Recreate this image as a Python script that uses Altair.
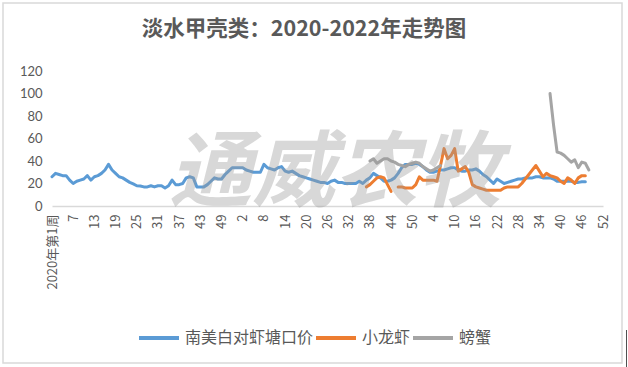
import altair as alt
import pandas as pd

N = 157  # 2020 (53 weeks) + 2021 (52) + 2022 (52)

chart_title = "淡水甲壳类：2020-2022年走势图"
watermark_text = "通威农牧"

x_tick_labels = ["2020年第1周", "7", "13", "19", "25", "31", "37", "43", "49",
                 "2", "8", "14", "20", "26", "32", "38", "44", "50",
                 "4", "10", "16", "22", "28", "34", "40", "46", "52"]

series_names = ["南美白对虾塘口价", "小龙虾", "螃蟹"]
series_colors = ["#5B9BD5", "#ED7D31", "#A5A5A5"]

shrimp_vals = [26, 29, 28, 27, 27, 23, 20, 22, 23, 24,
               27, 23, 26, 27, 29, 32, 37, 32, 29, 26,
               25, 23, 21, 19.6, 18, 17.8, 17, 17, 18, 17,
               18, 18, 16, 18, 23, 19, 19, 20, 25, 26,
               25, 17, 17, 17, 19, 22, 25, 24, 24, 28,
               31, 34, 34, 34, 34, 32, 31, 30, 30, 30,
               37, 34, 33, 32, 34, 35, 31, 30, 31, 29,
               27, 26, 25, 24, 23, 22, 21, 21, 20, 22,
               23, 21, 21, 20, 20, 20, 20, 22, 20, 23,
               25, 29, 27, 25, 22, 22, 23, 25, 29, 34,
               37, 37, 37, 38, 37, 35, 32, 30, 30, 31,
               32, 32, 33, 34, 34, 32, 31, 31, 32, 32,
               33, 31, 28, 26, 23, 20, 24, 22, 20, 21,
               22, 23, 24, 24, 25, 25, 25, 26, 26, 25,
               25, 25, 24, 22, 22, 22, 22, 22, 21, 21,
               21.5, 21.5]
shrimp_start = 0

crayfish_vals = [17, 19, 22, 25, 26, 25, 19, 13, None,
                 17, 17, 16, 16, 16, 19, 26, 23, 23, 23,
                 23, 22, 36, 51, 42, 45, 51, 31, 33, 35,
                 30, 19, 17, 16, 15, 14, 14, 14, 14, 14,
                 16, 17, 17, 17, 17, 20, 24, 28, 32, 36,
                 31, 26, 29, 27, 26, 25, 22, 20, 25, 23,
                 20, 25, 27, 27]
crayfish_start = 89

crab_vals = [40, 42, 38, 40, 42, 42, 40, 39, 37, 36,
             35, 37, 38, 39, 38, 35, 33, 31, 32, 34, 36,
             None, None, None, None, None, None, None, None, None, None,
             None, None, None, None, None, None, None, None, None, None,
             None, None, None, None, None, None, None, None, None, None,
             100, 72, 48, 47, 45, 42, 39, 41, 34, 39, 38, 32]
crab_start = 90


def full(vals, start):
    out = [None] * start + list(vals)
    return out + [None] * (N - len(out))


all_series = [full(shrimp_vals, shrimp_start),
              full(crayfish_vals, crayfish_start),
              full(crab_vals, crab_start)]

rows = []
for name, vals in zip(series_names, all_series):
    seg = 0
    prev_none = True
    for i, v in enumerate(vals):
        if v is None:
            prev_none = True
            continue
        if prev_none:
            seg += 1
            prev_none = False
        rows.append({"idx": i, "series": name, "value": v, "seg": f"{name}-{seg}"})
df = pd.DataFrame(rows)

label_expr = "[" + ",".join(f"'{t}'" for t in x_tick_labels) + "][round(datum.value/6)]"

W, H = 551, 135
PAD = {"left": 52, "top": 71, "right": 25, "bottom": 161}

lines = alt.Chart(df).mark_line(strokeWidth=3, strokeJoin="round", strokeCap="round").encode(
    x=alt.X("idx:Q",
            scale=alt.Scale(domain=[0, N - 1], nice=False, zero=False),
            axis=alt.Axis(values=list(range(0, N, 6)), labelExpr=label_expr,
                          labelAngle=270, labelFontSize=13, labelColor="#595959",
                          labelFont="Noto Sans CJK SC", labelPadding=8,
                          ticks=False, grid=False, domainColor="#D9D9D9",
                          domainWidth=1.5, title=None, labelOverlap=False,
                          labelFlush=False, labelBound=False, labelLimit=200)),
    y=alt.Y("value:Q",
            scale=alt.Scale(domain=[0, 120], nice=False),
            axis=alt.Axis(values=list(range(0, 121, 20)), labelFontSize=13,
                          labelFont="Lato", labelColor="#595959", labelPadding=10,
                          ticks=False, grid=False, domain=False, title=None)),
    color=alt.Color("series:N",
                    scale=alt.Scale(domain=series_names, range=series_colors),
                    legend=alt.Legend(title=None, orient="none", legendX=85, legendY=245,
                                      direction="horizontal", symbolType="stroke",
                                      symbolStrokeWidth=4, symbolSize=1600,
                                      labelFontSize=16, labelFont="Noto Sans CJK SC",
                                      labelColor="#595959", labelOffset=4,
                                      columnPadding=-10, padding=0, labelLimit=400)),
    detail="seg:N",
    order="idx:Q",
)

watermark = alt.Chart(pd.DataFrame({"t": [watermark_text]})).mark_text(
    font="Noto Sans CJK SC", fontSize=83, fontWeight="bold", fontStyle="italic",
    color="#9a9a9a", opacity=0.38, align="center", baseline="middle"
).encode(text="t:N", x=alt.value(283), y=alt.value(104))

title = alt.Chart(pd.DataFrame({"t": [chart_title]})).mark_text(
    font="Noto Sans CJK SC", fontSize=21.5, fontWeight="bold", color="#595959",
    align="center", baseline="middle"
).encode(text="t:N", x=alt.value(252), y=alt.value(-41))

border = alt.Chart(pd.DataFrame({"a": [0]})).mark_rect(
    fill=None, stroke="#D9D9D9", strokeWidth=1.5
).encode(x=alt.value(-49), x2=alt.value(570), y=alt.value(-68), y2=alt.value(292))

edge = alt.Chart(pd.DataFrame({"a": [0]})).mark_rule(
    stroke="#505050", strokeWidth=1
).encode(x=alt.value(574.5), y=alt.value(259), y2=alt.value(296))

chart = alt.layer(border, edge, lines, watermark, title).properties(
    width=W, height=H,
    autosize=alt.AutoSizeParams(type="none"),
    padding=PAD,
    background="white",
).configure_view(stroke=None)

chart.save("out.html", embed_options={"renderer": "svg", "actions": False})
